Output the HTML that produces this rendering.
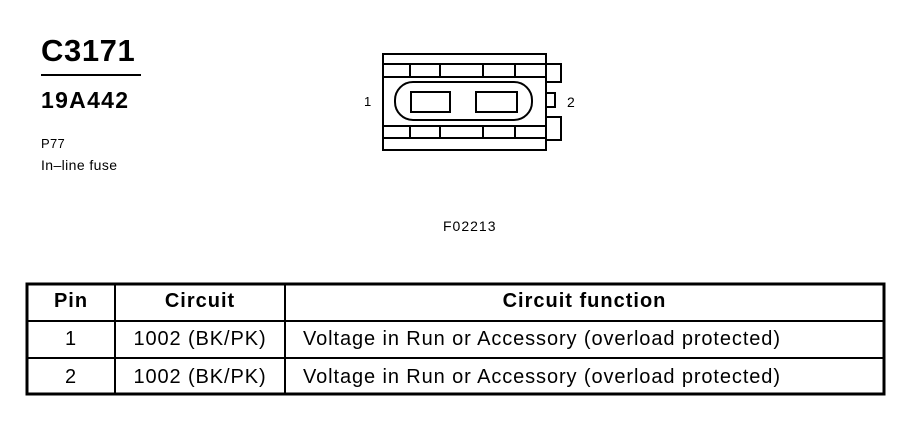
<!DOCTYPE html>
<html><head><style>
body{margin:0;background:#fff;width:912px;height:448px;overflow:hidden;position:relative;font-family:"Liberation Sans",Arial,sans-serif;color:#000}
.t{position:absolute;white-space:nowrap}
.h{font-size:20px;font-weight:bold;letter-spacing:1px}
.r{font-size:20px;letter-spacing:0.9px}
</style></head><body>
<div class="t" style="left:41px;top:33px;font-size:31px;font-weight:bold;letter-spacing:0.6px">C3171</div>
<div style="position:absolute;left:41px;top:74px;width:100px;height:2px;background:#000"></div>
<div class="t" style="left:41px;top:87px;font-size:23px;font-weight:bold;letter-spacing:1.3px">19A442</div>
<div class="t" style="left:41px;top:136px;font-size:13px;letter-spacing:0.3px">P77</div>
<div class="t" style="left:41px;top:157px;font-size:14px;letter-spacing:0.4px">In–line fuse</div>
<div class="t" style="left:364px;top:94px;font-size:13px;">1</div>
<div class="t" style="left:567px;top:94px;font-size:14px;">2</div>
<div class="t" style="left:443px;top:218px;font-size:14px;letter-spacing:1px">F02213</div>
<svg style="position:absolute;left:0;top:0" width="912" height="448">
<g fill="none" stroke="#000" stroke-width="2">
<rect x="383" y="54" width="163" height="96"/>
<line x1="383" y1="64" x2="546" y2="64"/>
<line x1="383" y1="77" x2="546" y2="77"/>
<line x1="383" y1="126" x2="546" y2="126"/>
<line x1="383" y1="138" x2="546" y2="138"/>
<line x1="410" y1="64" x2="410" y2="77"/><line x1="440" y1="64" x2="440" y2="77"/><line x1="483" y1="64" x2="483" y2="77"/><line x1="515" y1="64" x2="515" y2="77"/>
<line x1="410" y1="126" x2="410" y2="138"/><line x1="440" y1="126" x2="440" y2="138"/><line x1="483" y1="126" x2="483" y2="138"/><line x1="515" y1="126" x2="515" y2="138"/>
<path d="M546 64 H561 V82 H546"/>
<path d="M546 93 H555 V107 H546"/>
<path d="M546 117 H561 V140 H546"/>
<rect x="395" y="82" width="137" height="38" rx="18"/>
<rect x="411" y="92" width="39" height="20"/>
<rect x="476" y="92" width="41" height="20"/>
</g>
<g stroke="#000" fill="none">
<rect x="27" y="284" width="857" height="110" stroke-width="3"/>
<line x1="27" y1="321" x2="884" y2="321" stroke-width="2"/>
<line x1="27" y1="358" x2="884" y2="358" stroke-width="2"/>
<line x1="115" y1="284" x2="115" y2="394" stroke-width="2"/>
<line x1="285" y1="284" x2="285" y2="394" stroke-width="2"/>
</g>
</svg>
<div class="t h" style="left:27px;width:88px;text-align:center;top:290px">Pin</div>
<div class="t h" style="left:115px;width:170px;text-align:center;top:290px">Circuit</div>
<div class="t h" style="left:285px;width:599px;text-align:center;top:290px">Circuit function</div>
<div class="t r" style="left:27px;width:88px;text-align:center;top:328px">1</div>
<div class="t r" style="left:115px;width:170px;text-align:center;top:328px">1002 (BK/PK)</div>
<div class="t r" style="left:303px;top:328px">Voltage in Run or Accessory (overload protected)</div>
<div class="t r" style="left:27px;width:88px;text-align:center;top:366px">2</div>
<div class="t r" style="left:115px;width:170px;text-align:center;top:366px">1002 (BK/PK)</div>
<div class="t r" style="left:303px;top:366px">Voltage in Run or Accessory (overload protected)</div>
</body></html>
